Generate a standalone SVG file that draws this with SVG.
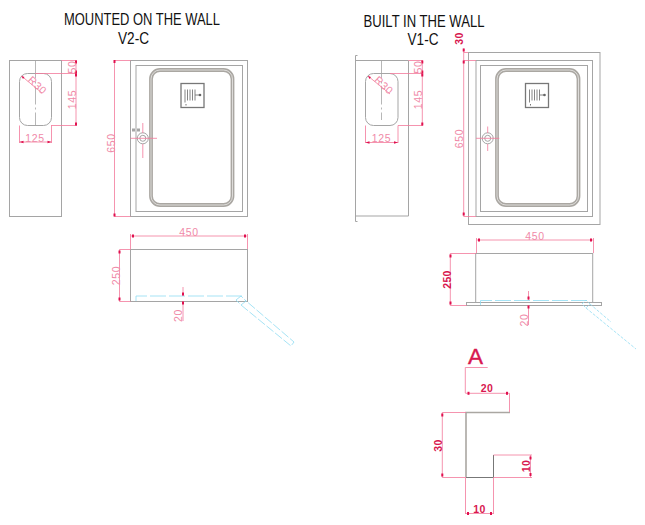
<svg xmlns="http://www.w3.org/2000/svg" width="645" height="525" viewBox="0 0 645 525">
<style>
text{font-family:"Liberation Sans",Arial,sans-serif}
.t{font-size:16.500px;fill:#111;text-anchor:middle}
.d{font-size:10.500px;fill:#f08aa8;text-anchor:middle;letter-spacing:.6px}
.b{font-size:10.500px;fill:#d8174f;text-anchor:middle;font-weight:bold;letter-spacing:.4px}
.g{fill:none;stroke:#a5a5a5;stroke-width:1}
.band{fill:none;stroke:#aaa7a2;stroke-width:3.800}
.in{fill:none;stroke:#fff;stroke-width:.6}
.p{fill:none;stroke:#f2789a;stroke-width:.8}
.c{fill:none;stroke:#8fdcf2;stroke-width:.8}
.cd{fill:none;stroke:#8fdcf2;stroke-width:.8;stroke-dasharray:16 3}
.cg{fill:none;stroke:#a5a5a5;stroke-width:.8;stroke-dasharray:18 3 2 3}
.k{fill:#e0104f}
</style>
<defs>
<g id="tick"><rect x="-1" y="-1.500" width="2" height="3" class="k"/></g>
<g id="reel">
<rect x="0" y="0" width="23" height="24" fill="none" stroke="#777" stroke-width="1.300"/>
<path d="M4 6V19M6.500 6V17M9 6V17M11.500 6V17M14 6V17M14 11.500H19" fill="none" stroke="#777" stroke-width=".9"/>
<circle cx="19" cy="11.500" r="1.300" fill="#666"/>
<path d="M5 20.500V22" stroke="#777" stroke-width="1"/>
</g>
<g id="door">
<rect x="0" y="0" width="81.500" height="135" rx="9" class="band"/>
<rect x="0" y="0" width="81.500" height="135" rx="9" class="in"/>
</g>
</defs>

<g id="titles">
<text class="t" x="142" y="25" textLength="156" lengthAdjust="spacingAndGlyphs">MOUNTED ON THE WALL</text>
<text class="t" x="133.500" y="43.500" textLength="31" lengthAdjust="spacingAndGlyphs">V2-C</text>
<text class="t" x="424" y="27" textLength="121" lengthAdjust="spacingAndGlyphs">BUILT IN THE WALL</text>
<text class="t" x="423" y="44.500" textLength="31" lengthAdjust="spacingAndGlyphs">V1-C</text>
</g>

<g id="v2-side">
<rect x="9.500" y="60.500" width="52" height="156" class="g"/>
<rect x="19.500" y="73.500" width="32" height="52" rx="8" class="g"/>
<path d="M35.500 60.500V125" class="cg"/>
<path class="p" d="M61.500 60.500H77M35 73.500H77M51 125.500H77M76 60.500V125.500M19.500 125.500V143M51.500 125.500V143M19.500 142H51.500M21.500 76 42 93"/>
<use href="#tick" x="76" y="62"/><use href="#tick" x="76" y="72"/><use href="#tick" x="76" y="75"/><use href="#tick" x="76" y="124"/>
<path class="k" d="M19.500 142l4-1.300v2.600zM51.500 142l-4-1.300v2.600zM21.500 76l3 1-1.500 2z"/>
<text class="d" transform="translate(75.500 67) rotate(-90)">50</text>
<text class="d" transform="translate(75.500 99.500) rotate(-90)">145</text>
<text class="d" x="35" y="142">125</text>
<text class="d" transform="translate(35 88) rotate(43)">R30</text>
</g>

<g id="v2-front">
<rect x="130.500" y="60.500" width="117" height="156" class="g"/>
<rect x="136" y="65.500" width="106.500" height="146" class="g"/>
<use href="#door" x="151" y="70"/>
<use href="#reel" x="181" y="83.500"/>
<circle cx="142.800" cy="138.300" r="5.500" class="g"/>
<circle cx="142.800" cy="138.300" r="3" class="g"/>
<rect x="132.500" y="129" width="2" height="2" class="g" stroke-width=".6"/>
<rect x="137.500" y="129" width="2" height="2" class="g" stroke-width=".6"/>
<path d="M130.500 138.300H157M142.800 123V133M142.800 144V158" class="p"/>
<path d="M130.500 60.500H114.500V216.500H130.500" class="p"/>
<use href="#tick" x="114.500" y="61.500"/><use href="#tick" x="114.500" y="215"/>
<text class="d" transform="translate(114.500 143) rotate(-90)">650</text>
</g>

<g id="v2-plan">
<rect x="130.500" y="249.500" width="117" height="52" class="g"/>
<path d="M136 301V296H242" class="cd"/>
<path d="M236 300 241 296 246 301 241 305ZM241 305 291 346 294 342 245 300" class="c" stroke-dasharray="9 2"/>
<path d="M130.500 249V234M247.500 249V234M130.500 236H247.500M130.500 249.500H119.500V301.500H130.500M183 287V296M183 301V321" class="p"/>
<use href="#tick" x="133" y="236"/><use href="#tick" x="245" y="236"/>
<use href="#tick" x="119.500" y="252"/><use href="#tick" x="119.500" y="299"/>
<use href="#tick" x="183" y="294"/><use href="#tick" x="183" y="303"/>
<text class="d" x="189" y="235.500">450</text>
<text class="d" transform="translate(119.500 275.500) rotate(-90)">250</text>
<text class="d" transform="translate(182 315.500) rotate(-90)">20</text>
</g>

<g id="v1-side">
<path d="M357.500 55.500H355.500V221.500H357.500M355.500 60.500H408.500V216H355.500" class="g"/>
<rect x="365.500" y="73.500" width="32.500" height="52" rx="8" class="g"/>
<path d="M381.500 60.500V120" class="cg"/>
<path d="M408.500 60.500H423M390 73.500H423M398 125.500H423M422.300 60.500V125.500M365.500 125.500V143M398 125.500V143M365.500 142.500H398M368 76 390 94" class="p"/>
<use href="#tick" x="422.300" y="62"/><use href="#tick" x="422.300" y="72"/><use href="#tick" x="422.300" y="75"/><use href="#tick" x="422.300" y="124"/>
<path class="k" d="M365.500 142.500l4-1.300v2.600zM398 142.500l-4-1.300v2.600zM368 76l3 1-1.500 2z"/>
<text class="d" transform="translate(422 67) rotate(-90)">50</text>
<text class="d" transform="translate(422 99.500) rotate(-90)">145</text>
<text class="d" x="381.500" y="142">125</text>
<text class="d" transform="translate(381.500 88) rotate(43)">R30</text>
</g>

<g id="v1-front">
<rect x="468.500" y="52.500" width="131.500" height="172" class="g"/>
<rect x="476" y="60.500" width="116.500" height="156" class="g"/>
<rect x="480.500" y="65.500" width="107" height="146" class="g"/>
<use href="#door" x="497" y="70"/>
<use href="#reel" x="525.500" y="83.500"/>
<circle cx="487.700" cy="138.300" r="5.500" class="g"/>
<circle cx="487.700" cy="138.300" r="3" class="g"/>
<path d="M476 138.300H499.300M487.700 126.500V133M487.700 144V151" class="p"/>
<path d="M463.700 48.500V216.500H476M463.700 60.500H476M463.700 52.500H468" class="p"/>
<use href="#tick" x="463.700" y="50"/><use href="#tick" x="463.700" y="62"/><use href="#tick" x="463.700" y="214"/>
<text class="b" transform="translate(463 38.500) rotate(-90)">30</text>
<text class="d" transform="translate(463 138.500) rotate(-90)">650</text>
</g>

<g id="v1-plan">
<rect x="475.700" y="253.500" width="117" height="49" class="g"/>
<rect x="466.500" y="302.500" width="135" height="3" class="g"/>
<path d="M480.500 305V300.500H587" class="cd"/>
<path d="M582 304 586 300 590 304 586 308ZM586 308 636 349M590 304 611 322" class="c" stroke-dasharray="3 1.500"/>
<path d="M476.500 253V238M593.500 253V238M476.500 240H593.500M476 253.500H450.300V305.500H466.500M528.500 291V300M528.500 305V325" class="p"/>
<use href="#tick" x="479" y="240"/><use href="#tick" x="591" y="240"/>
<use href="#tick" x="450.500" y="256"/><use href="#tick" x="450.500" y="303"/>
<use href="#tick" x="528.500" y="298"/><use href="#tick" x="528.500" y="307"/>
<text class="d" x="535" y="239.500">450</text>
<text class="b" transform="translate(451 279.500) rotate(-90)">250</text>
<text class="d" transform="translate(528 320) rotate(-90)">20</text>
</g>

<g id="detail-a">
<text x="475.500" y="364" font-size="22.500" fill="#d8174f" stroke="#d8174f" stroke-width=".4" text-anchor="middle">A</text>
<path d="M487.700 367.500H465.300V393" class="p"/>
<path d="M510 412.500H466V477" fill="none" stroke="#aaa7a2" stroke-width="1.600"/>
<path d="M466 477.500H493.500V455" fill="none" stroke="#777" stroke-width="1"/>
<path d="M465.300 393.300H509.500V412M442.300 412.500H466M442.300 412.500V477.500M442.300 477.500H466M493.500 455H532M493.500 477.500H532M530.500 455V477.500M465.500 478V514M493.500 478V514M465.500 513.500H493.500" class="p"/>
<use href="#tick" x="468.500" y="393.300"/><use href="#tick" x="507" y="393.300"/>
<use href="#tick" x="442.300" y="415"/><use href="#tick" x="442.300" y="475"/>
<use href="#tick" x="530.500" y="458"/><use href="#tick" x="530.500" y="474.500"/>
<use href="#tick" x="468" y="513.500"/><use href="#tick" x="491" y="513.500"/>
<text class="b" x="487" y="391.500">20</text>
<text class="b" transform="translate(442 445.500) rotate(-90)">30</text>
<text class="b" transform="translate(530 466) rotate(-90)">10</text>
<text class="b" x="479.500" y="512.500">10</text>
</g>
</svg>
